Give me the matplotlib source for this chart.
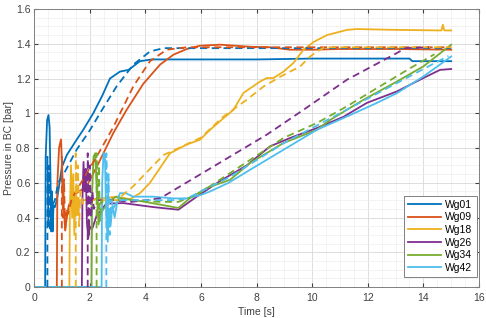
import matplotlib as mpl
mpl.use("Agg")
import matplotlib.pyplot as plt
from matplotlib.ticker import MultipleLocator

plt.rcParams['font.family'] = ['Liberation Sans', 'DejaVu Sans']

names = ['Wg01', 'Wg09', 'Wg18', 'Wg26', 'Wg34', 'Wg42']
colors = ['#0072BD', '#D95319', '#EDB120', '#7E2F8E', '#77AC30', '#4DBEEE']

# measured (solid)
t01 = [0, 0.40, 0.42, 0.47, 0.52, 0.56, 0.60, 0.62, 0.64, 0.67, 0.70, 0.75, 0.82, 0.90, 1.00, 1.18, 1.30, 1.50, 1.77, 2.13, 2.45, 2.73, 3.09, 3.40, 3.81, 4.23, 6.0, 8.0, 10.0, 12.0, 13.5, 13.6, 14.0, 15.0]
p01 = [0, 0, 0.75, 0.96, 0.99, 0.92, 0.55, 0.32, 0.55, 0.32, 0.47, 0.46, 0.50, 0.58, 0.69, 0.76, 0.79, 0.84, 0.905, 1.00, 1.10, 1.20, 1.24, 1.25, 1.30, 1.31, 1.31, 1.31, 1.315, 1.315, 1.315, 1.30, 1.30, 1.30]
t09 = [0, 0.82, 0.84, 0.90, 0.97, 1.02, 1.07, 1.12, 1.18, 1.25, 1.39, 1.53, 1.89, 2.25, 2.85, 3.33, 3.93, 4.53, 5.01, 5.49, 5.97, 6.7, 7.77, 8.5, 9.2, 10.0, 11.0, 13.0, 15.0]
p09 = [0, 0, 0.6, 0.80, 0.85, 0.65, 0.45, 0.33, 0.40, 0.47, 0.51, 0.54, 0.58, 0.69, 0.886, 1.02, 1.17, 1.28, 1.337, 1.37, 1.389, 1.395, 1.383, 1.38, 1.366, 1.366, 1.37, 1.37, 1.366]
t18 = [0, 1.27, 1.29, 1.33, 1.37, 1.41, 1.45, 1.50, 1.55, 1.62, 1.8, 2.37, 2.97, 3.45, 3.81, 4.17, 4.53, 4.89, 5.49, 5.97, 6.33, 6.8, 7.17, 7.53, 8.13, 8.37, 8.61, 8.97, 9.33, 9.69, 10.05, 10.53, 11.25, 11.6, 13.05, 14.65, 14.7, 14.75, 15.0]
p18 = [0, 0, 0.45, 0.70, 0.40, 0.65, 0.30, 0.55, 0.42, 0.50, 0.50, 0.51, 0.52, 0.505, 0.54, 0.60, 0.685, 0.77, 0.82, 0.848, 0.905, 0.97, 1.02, 1.117, 1.183, 1.203, 1.203, 1.24, 1.29, 1.366, 1.41, 1.45, 1.48, 1.485, 1.48, 1.477, 1.51, 1.477, 1.477]
t26 = [0, 1.72, 1.74, 1.78, 1.82, 1.86, 1.90, 1.95, 2.0, 2.08, 2.25, 2.6, 3.21, 4.29, 5.19, 5.85, 6.69, 7.65, 8.49, 9.21, 10.17, 11.13, 11.97, 13.05, 14.0, 14.6, 15.0]
p26 = [0, 0, 0.5, 0.72, 0.55, 0.68, 0.38, 0.28, 0.35, 0.33, 0.41, 0.48, 0.483, 0.46, 0.445, 0.52, 0.61, 0.70, 0.81, 0.858, 0.915, 0.98, 1.06, 1.126, 1.203, 1.25, 1.255]
t34 = [0, 2.07, 2.09, 2.14, 2.20, 2.26, 2.32, 2.37, 2.5, 2.73, 2.97, 3.09, 4.0, 5.19, 5.61, 6.21, 7.05, 7.77, 8.97, 10.17, 10.65, 11.85, 13.05, 14.0, 15.0]
p34 = [0, 0, 0.55, 0.75, 0.77, 0.55, 0.36, 0.41, 0.45, 0.50, 0.52, 0.512, 0.49, 0.455, 0.512, 0.57, 0.617, 0.714, 0.829, 0.905, 0.962, 1.078, 1.183, 1.27, 1.395]
t42 = [0, 2.43, 2.45, 2.50, 2.55, 2.60, 2.65, 2.70, 2.75, 2.82, 2.9, 3.0, 3.09, 3.3, 3.57, 4.29, 5.0, 5.49, 6.0, 6.33, 7.0, 7.77, 8.97, 10.17, 11.37, 12.33, 13.05, 14.0, 15.0]
p42 = [0, 0, 0.60, 0.77, 0.75, 0.40, 0.26, 0.45, 0.35, 0.47, 0.40, 0.50, 0.54, 0.54, 0.52, 0.52, 0.51, 0.51, 0.53, 0.55, 0.60, 0.675, 0.79, 0.905, 0.99, 1.06, 1.116, 1.212, 1.327]

# simulated (dashed)
s01_t = [0.48, 0.48, 0.52, 0.55, 0.58, 0.62, 0.66, 0.75, 0.87, 1.1, 1.53, 2.0, 2.37, 2.97, 3.57, 4.17, 4.66, 15.0]
s01_p = [0, 0.75, 0.35, 0.70, 0.32, 0.50, 0.47, 0.50, 0.60, 0.66, 0.79, 0.90, 1.0, 1.155, 1.28, 1.356, 1.375, 1.375]
s09_t = [1.0, 1.0, 1.04, 1.08, 1.12, 1.17, 1.22, 1.36, 1.8, 2.25, 2.85, 3.57, 4.17, 4.77, 5.49, 15.0]
s09_p = [0, 0.75, 0.40, 0.62, 0.32, 0.45, 0.42, 0.51, 0.63, 0.75, 0.92, 1.155, 1.30, 1.366, 1.38, 1.38]
s18_t = [1.5, 1.5, 1.54, 1.58, 1.62, 1.67, 1.75, 2.0, 2.5, 2.97, 3.57, 4.17, 4.66, 5.2, 6.0, 6.8, 7.65, 8.25, 8.85, 9.57, 9.93, 10.17, 10.45, 15.0]
s18_p = [0, 0.77, 0.40, 0.70, 0.35, 0.55, 0.48, 0.50, 0.50, 0.50, 0.58, 0.68, 0.76, 0.80, 0.86, 0.98, 1.078, 1.154, 1.21, 1.27, 1.327, 1.356, 1.38, 1.38]
s26_t = [1.93, 1.93, 1.97, 2.01, 2.05, 2.10, 2.15, 2.3, 2.8, 3.5, 4.53, 8.37, 9.69, 11.25, 13.05, 13.35, 14.2]
s26_p = [0, 0.77, 0.30, 0.70, 0.40, 0.55, 0.45, 0.50, 0.50, 0.49, 0.51, 0.877, 1.02, 1.193, 1.347, 1.375, 1.38]
s34_t = [2.25, 2.25, 2.29, 2.33, 2.37, 2.42, 2.5, 2.8, 3.5, 4.5, 5.19, 5.85, 7.05, 8.97, 10.17, 11.25, 12.33, 13.53, 14.4]
s34_p = [0, 0.77, 0.45, 0.70, 0.38, 0.50, 0.48, 0.50, 0.50, 0.49, 0.49, 0.53, 0.656, 0.858, 0.944, 1.04, 1.145, 1.26, 1.34]
s42_t = [2.6, 2.6, 2.64, 2.68, 2.72, 2.78, 2.85, 3.0, 4.0, 5.0, 5.5, 7.0, 9.0, 11.0, 13.0, 14.3, 14.9]
s42_p = [0, 0.77, 0.35, 0.65, 0.30, 0.50, 0.45, 0.50, 0.50, 0.50, 0.51, 0.63, 0.83, 1.0, 1.17, 1.28, 1.33]

meas = [(t01, p01), (t09, p09), (t18, p18), (t26, p26), (t34, p34), (t42, p42)]
sim = [(s01_t, s01_p), (s09_t, s09_p), (s18_t, s18_p), (s26_t, s26_p), (s34_t, s34_p), (s42_t, s42_p)]

fig = plt.figure(figsize=(4.86, 3.18), dpi=100)
ax = fig.add_axes([0.07, 0.0975, 0.9156, 0.874])

for (t, p), c, n in zip(meas, colors, names):
    ax.plot(t, p, color=c, lw=1.3, label=n)
for (t, p), c in zip(sim, colors):
    ax.plot(t, p, color=c, lw=1.3, ls=(0, (4, 2.5)))

ax.set_xlim(0, 16)
ax.set_ylim(0, 1.6)
ax.xaxis.set_major_locator(MultipleLocator(2))
ax.xaxis.set_minor_locator(MultipleLocator(0.5))
ax.yaxis.set_major_locator(MultipleLocator(0.2))
ax.yaxis.set_minor_locator(MultipleLocator(0.05))
ax.set_yticks([0, 0.2, 0.4, 0.6, 0.8, 1.0, 1.2, 1.4, 1.6])
ax.set_yticklabels(['0', '0.2', '0.4', '0.6', '0.8', '1', '1.2', '1.4', '1.6'])
ax.grid(which='major', color='#d8d8d8', lw=0.6)
ax.grid(which='minor', color='#efefef', lw=0.5)
ax.set_axisbelow(True)
ax.tick_params(which='both', direction='in', top=True, right=True, colors='#404040', labelsize=7.5)
ax.tick_params(which='minor', length=0)
ax.tick_params(which='major', length=3)
ax.tick_params(axis='x', which='major', pad=4)
ax.tick_params(axis='y', which='major', pad=2.5)
for s in ax.spines.values():
    s.set_color('#808080')
    s.set_linewidth(0.7)

ax.set_xlabel('Time [s]', fontsize=7.5, color='#404040', labelpad=3)
ax.set_ylabel('Pressure in BC [bar]', fontsize=7.5, color='#404040', labelpad=1.5)

leg = ax.legend(loc='lower right', bbox_to_anchor=(0.995, 0.036), fontsize=7.5,
                handlelength=3.2, labelspacing=0.25, borderaxespad=0, fancybox=False,
                framealpha=1, edgecolor='#808080', handletextpad=0.4, borderpad=0.4)
leg.get_frame().set_linewidth(0.7)

plt.savefig("out.png", dpi=100)
